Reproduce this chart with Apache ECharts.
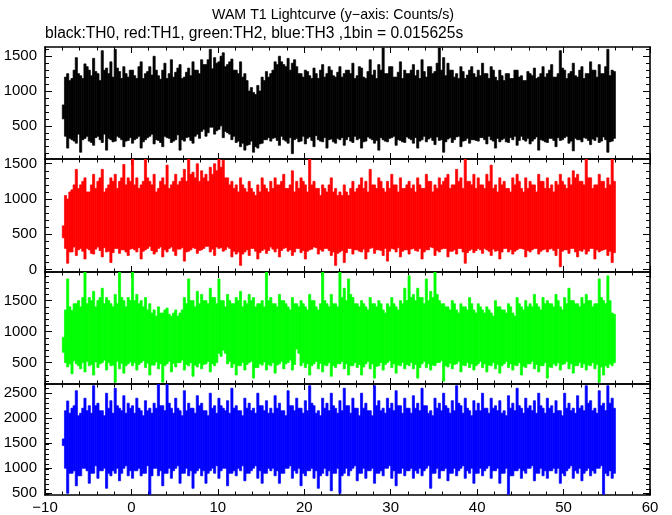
<!DOCTYPE html>
<html><head><meta charset="utf-8">
<script src="https://cdn.jsdelivr.net/npm/echarts@6/dist/echarts.min.js"></script>
<style>html,body{margin:0;padding:0;background:#fff}#c{width:672px;height:515px}</style>
</head><body><div id="c"></div>
<script>
const titleText = 'WAM T1 Lightcurve (y\u2212axis: Counts/s)';
const subtitleText = 'black:TH0, red:TH1, green:TH2, blue:TH3 ,1bin = 0.015625s';
const xMin = -10, xMax = 60, xStep = 10;
const tStart = -8, binStep = 0.5;

// Envelope (high / low).
// "A" arrays: first quarter-second of each 0.5 s bin (t = -8, -7.5, ... 55.5)
// "B" arrays: second quarter-second of each bin (t = -7.75, -7.25, ... 55.75)
const th0Hi = [
 800,1250,1180,1480,1220,1390,1300,1470,1250,1580,1330,1420,1600,1280,1350,1200,
 1300,1180,1420,1250,1350,1500,1220,1300,1180,1450,1270,1380,1200,1330,1420,1300,
 1450,1380,1600,1480,1420,1550,1380,1460,1300,1420,1250,1000,980,1080,1200,1280,
 1250,1420,1500,1380,1470,1400,1350,1250,1300,1220,1330,1180,1380,1250,1300,1200,
 1350,1250,1300,1400,1220,1330,1180,1450,1300,1380,1620,1250,1350,1200,1420,1300,
 1250,1380,1300,1450,1200,1350,1280,1620,1480,1400,1300,1250,1350,1180,1300,1250,
 1300,1400,1250,1350,1200,1300,1150,1250,1180,1300,1220,1150,1250,1330,1200,1350,
 1250,1380,1200,1580,1300,1250,1400,1200,1350,1250,1420,1300,1380,1250,1600,1300];
const th0Lo = [
 600,180,300,250,120,320,280,220,350,260,150,300,280,330,200,290,
 250,320,180,300,350,240,290,200,330,260,300,150,280,340,250,380,
 420,350,480,380,450,330,400,300,260,200,150,230,120,180,250,300,
 280,330,220,300,250,100,320,280,240,340,200,300,270,180,310,250,
 300,220,340,260,300,180,280,320,250,150,300,270,330,220,290,260,
 320,250,180,300,270,330,230,290,120,310,260,340,200,290,250,300,
 280,330,240,300,180,270,320,260,300,220,350,280,240,310,150,290,
 260,320,200,290,330,250,140,300,270,320,230,290,260,340,120,280];
const th0HiB = [
 1200,1150,1300,1250,1180,1350,1220,1280,1150,1300,1250,1200,1330,1180,1250,1300,
 1220,1350,1180,1280,1230,1300,1170,1400,1250,1200,1330,1180,1270,1220,1300,1250,
 1380,1450,1320,1400,1500,1350,1420,1300,1250,1200,1150,1050,950,1000,1150,1200,
 1300,1380,1420,1350,1300,1450,1250,1200,1280,1180,1250,1300,1200,1350,1220,1270,
 1200,1300,1250,1180,1350,1200,1280,1230,1180,1300,1250,1350,1200,1270,1180,1250,
 1300,1220,1180,1280,1350,1250,1400,1300,1220,1300,1200,1180,1280,1230,1350,1200,
 1220,1250,1180,1300,1150,1220,1250,1180,1300,1200,1150,1280,1220,1180,1250,1200,
 1300,1200,1250,1330,1180,1280,1220,1300,1180,1250,1300,1200,1250,1350,1220,1280];
const th0LoB = [
 350,320,280,380,300,350,260,330,300,380,320,270,350,300,280,330,
 300,350,270,330,380,300,260,350,320,280,370,300,330,290,350,320,
 450,400,480,430,500,420,380,350,280,250,220,280,200,240,300,330,
 320,290,350,280,330,300,270,350,320,290,360,280,330,300,270,320,
 330,300,280,350,320,270,340,300,290,330,280,320,350,300,270,340,
 300,330,280,350,310,290,340,300,270,330,300,350,280,320,300,290,
 330,300,350,280,320,300,270,330,350,290,300,320,280,340,300,270,
 320,290,330,300,350,280,320,300,330,290,310,340,280,300,270,320];

const th1Hi = [
 620,1000,1130,1420,1200,1300,1100,1350,1250,1420,1150,1300,1350,1250,1490,1300,
 1570,1300,1200,1570,1250,1350,1150,1300,1480,1200,1350,1250,1420,1570,1380,1500,
 1400,1350,1450,1500,1570,1550,1300,1250,1200,1300,1150,1250,1100,1200,1300,1150,
 1250,1300,1200,1350,1150,1400,1250,1300,1200,1570,1250,1150,1200,1100,1300,1150,
 1100,1200,1050,1250,1150,1300,1250,1420,1200,1300,1150,1250,1350,1200,1300,1150,
 1250,1200,1300,1150,1350,1250,1200,1300,1250,1350,1200,1420,1300,1570,1250,1350,
 1300,1200,1350,1480,1200,1300,1250,1150,1300,1350,1150,1300,1250,1200,1350,1250,
 1300,1200,1250,1350,1200,1300,1400,1350,1250,1570,1300,1200,1350,1250,1300,1570];
const th1Lo = [
 450,90,250,200,300,150,280,220,320,180,250,100,300,230,280,200,
 300,250,150,280,330,220,300,180,250,320,200,290,120,260,310,230,
 280,330,250,200,300,260,320,180,220,60,250,200,300,150,270,230,
 320,250,180,300,260,200,300,240,150,280,320,220,260,300,200,60,
 250,100,300,220,280,250,150,300,230,280,200,120,300,250,180,280,
 220,300,260,150,280,320,200,250,300,180,260,220,300,90,270,240,
 300,230,280,200,260,150,300,250,220,280,300,180,250,300,220,280,
 250,300,200,40,280,230,300,180,260,220,300,150,250,280,200,100];
const th1HiB = [
 1050,1100,1200,1150,1250,1100,1200,1150,1300,1100,1200,1250,1150,1300,1200,1250,
 1200,1150,1250,1300,1200,1100,1250,1200,1150,1250,1200,1300,1250,1350,1300,1250,
 1300,1250,1350,1400,1450,1300,1200,1150,1100,1200,1100,1150,1050,1100,1200,1100,
 1150,1200,1250,1150,1200,1100,1150,1250,1100,1200,1150,1050,1150,1200,1100,1050,
 1050,1100,1150,1100,1200,1150,1100,1200,1150,1250,1100,1150,1200,1100,1150,1200,
 1150,1100,1200,1150,1250,1100,1150,1200,1300,1150,1200,1250,1150,1250,1200,1150,
 1200,1150,1250,1150,1100,1200,1150,1100,1200,1250,1100,1150,1200,1100,1250,1150,
 1150,1100,1200,1250,1150,1200,1300,1250,1200,1300,1150,1200,1250,1150,1200,1250];
const th1LoB = [
 300,250,320,280,260,300,230,290,270,310,260,240,300,280,250,290,
 280,310,260,300,270,250,320,280,300,260,290,310,250,280,300,270,
 300,330,290,320,310,280,300,260,250,220,280,300,260,240,290,270,
 290,300,270,310,280,250,300,270,260,290,310,280,300,270,250,230,
 270,240,300,280,260,290,250,310,280,270,300,260,290,310,260,280,
 290,270,300,250,280,310,270,290,300,260,280,300,250,240,290,270,
 280,300,260,290,270,250,300,280,260,300,290,270,280,300,260,290,
 290,270,300,260,280,300,250,270,290,260,300,280,270,290,260,240];

const th2Hi = [
 908,1850,1340,1450,1400,1960,1550,1650,1500,1700,1550,1450,1600,1960,1500,1550,
 1960,1600,1500,1550,1450,1350,1400,1300,1380,1250,1350,1300,1550,1850,1500,1650,
 1600,1500,1700,1550,1850,1500,1600,1450,1550,1650,1500,1600,1550,1450,1500,1960,
 1550,1450,1600,1500,1400,1550,1450,1500,1400,1600,1500,1350,1960,1450,1600,1450,
 1960,1700,1850,1550,1450,1500,1400,1550,1450,1500,1350,1450,1550,1400,1500,1700,
 1900,1600,1700,1550,1850,1650,1960,1500,1450,1400,1500,1350,1450,1400,1550,1350,
 1450,1350,1400,1300,1500,1400,1350,1450,1300,1550,1400,1500,1450,1600,1400,1550,
 1500,1450,1600,1400,1550,1700,1500,1450,1550,1600,1500,1450,1850,1500,1900,1300];
const th2Lo = [
 667,430,320,480,400,350,450,300,420,500,380,450,183,400,330,480,
 450,380,500,420,300,460,400,183,480,350,430,500,380,450,280,430,
 400,480,350,450,650,700,480,420,300,450,380,500,250,420,460,380,
 450,330,480,400,500,380,720,450,420,300,480,400,350,450,280,420,
 480,400,300,450,420,300,480,400,250,450,380,500,420,330,450,400,
 450,400,250,480,420,380,450,500,200,430,400,480,350,450,420,380,
 480,420,350,450,400,330,480,420,380,450,300,420,480,400,350,450,
 250,420,450,380,480,400,330,450,420,380,450,400,183,300,420,450];
const th2HiB = [
 1350,1400,1450,1500,1550,1450,1500,1400,1550,1450,1500,1400,1450,1550,1400,1500,
 1500,1450,1400,1350,1300,1250,1300,1350,1280,1300,1250,1350,1450,1500,1400,1450,
 1500,1450,1550,1450,1500,1400,1500,1450,1500,1400,1450,1500,1400,1450,1400,1500,
 1450,1400,1500,1450,1350,1450,1400,1450,1350,1500,1400,1450,1500,1400,1450,1400,
 1550,1500,1600,1450,1400,1450,1350,1450,1400,1450,1300,1400,1450,1350,1450,1500,
 1550,1500,1550,1450,1500,1550,1600,1450,1400,1350,1450,1300,1400,1350,1450,1300,
 1400,1300,1350,1250,1400,1350,1300,1400,1250,1450,1350,1400,1400,1450,1350,1450,
 1450,1400,1500,1350,1450,1500,1450,1400,1450,1500,1400,1450,1550,1450,1500,1280];
const th2LoB = [
 500,480,530,450,500,520,470,510,480,540,500,460,520,490,450,510,
 500,470,530,490,460,510,480,450,520,490,500,540,470,500,460,490,
 470,520,480,500,600,650,520,480,450,500,470,520,420,480,510,470,
 500,460,520,480,540,470,650,500,480,450,520,490,460,500,450,480,
 520,480,450,500,470,430,520,480,440,500,470,530,480,460,500,470,
 500,470,420,520,480,460,500,530,450,490,470,520,460,500,480,450,
 520,480,460,500,470,450,520,480,460,500,440,480,520,470,450,500,
 430,480,500,470,520,480,450,500,480,460,500,470,430,450,480,500];

const th3Hi = [
 1586,2345,2200,2550,2100,2400,2250,2650,2300,2150,2500,2350,2600,2200,2450,2300,
 2250,2400,2150,2350,2200,2300,2680,2250,2680,2200,2400,2150,2550,2300,2200,2450,
 2300,2150,2500,2250,2400,2200,2350,2600,2250,2150,2400,2300,2200,2500,2250,2350,
 2200,2450,2300,2150,2550,2250,2400,2200,2350,2650,2250,2150,2400,2300,2500,2200,
 2350,2600,2250,2400,2200,2500,2300,2150,2650,2350,2200,2400,2300,2550,2250,2400,
 2200,2450,2300,2600,2250,2150,2400,2300,2500,2200,2350,2650,2250,2400,2150,2350,
 2300,2500,2200,2400,2250,2350,2150,2450,2300,2600,2200,2400,2250,2350,2500,2200,
 2400,2250,2350,2150,2500,2300,2200,2450,2250,2650,2350,2200,2550,2300,2650,2400];
const th3Lo = [
 1454,500,900,650,850,1000,700,900,800,950,600,850,900,750,1000,850,
 800,950,850,900,480,1000,850,650,900,800,1000,700,900,850,600,950,
 850,700,950,900,800,1000,650,900,850,950,750,900,1000,800,700,900,
 950,850,700,900,1000,800,900,650,850,950,800,600,900,850,550,900,
 500,900,850,1000,750,900,800,950,700,900,850,1000,800,650,900,850,
 950,800,900,850,1000,600,900,800,950,750,900,850,1000,800,900,700,
 900,850,1000,800,950,700,900,480,850,950,800,900,1000,750,900,850,
 800,950,900,700,850,1000,800,900,750,950,850,900,1000,480,850,800];
const th3HiB = [
 2150,2100,2250,2050,2200,2150,2100,2250,2150,2050,2200,2100,2250,2150,2100,2200,
 2100,2200,2050,2150,2100,2200,2250,2150,2300,2100,2200,2050,2150,2200,2100,2250,
 2150,2050,2200,2100,2250,2150,2100,2200,2150,2050,2200,2150,2100,2250,2150,2100,
 2100,2200,2150,2050,2250,2150,2200,2100,2150,2300,2100,2050,2200,2150,2250,2100,
 2150,2250,2100,2200,2050,2200,2150,2050,2250,2150,2100,2200,2150,2250,2100,2200,
 2100,2200,2150,2250,2100,2050,2200,2150,2250,2100,2150,2300,2100,2200,2050,2150,
 2150,2200,2100,2200,2150,2100,2050,2200,2150,2250,2100,2200,2150,2100,2250,2100,
 2200,2100,2150,2050,2200,2150,2100,2200,2150,2300,2150,2100,2250,2150,2300,2200];
const th3LoB = [
 1000,900,950,850,1000,950,900,1050,950,1000,900,950,1000,900,1050,950,
 950,1000,900,1050,850,1000,950,900,1000,950,1050,900,1000,950,900,1000,
 950,900,1000,1050,950,1000,900,950,1000,1050,900,950,1050,950,900,1000,
 1000,950,900,1000,1050,950,1000,900,950,1000,950,850,1000,950,900,1000,
 850,1000,950,1050,900,1000,950,1000,900,950,1000,1050,950,900,1000,950,
 1000,950,1000,950,1050,900,1000,950,1000,900,1000,950,1050,950,1000,900,
 1000,950,1050,950,1000,900,1000,850,950,1000,950,1000,1050,900,1000,950,
 950,1000,1000,900,950,1050,950,1000,900,1000,950,1000,1050,900,950,900];

const panelHiA = [th0Hi, th1Hi, th2Hi, th3Hi];
const panelLoA = [th0Lo, th1Lo, th2Lo, th3Lo];
const panelHiB = [th0HiB, th1HiB, th2HiB, th3HiB];
const panelLoB = [th0LoB, th1LoB, th2LoB, th3LoB];
const panelNames = ['TH0','TH1','TH2','TH3'];
const panelColors = ['#000000','#ff0000','#00ff00','#0000ff'];
const yRanges = [[23,1633],[-34,1567],[155,1962],[466,2684]];
const yLabelValues = [[500,1000,1500],[0,500,1000,1500],[500,1000,1500],[500,1000,1500,2000,2500]];

const gridTops = [47,159,272,384];
const gridHeights = [112,113,112,112];
const FONT = '"Liberation Sans", Arial, Helvetica, sans-serif';
const FS = 15;

function binRows(hiA, loA, hiB, loB){
  const rows = [];
  const half = binStep/2;
  for (let i = 0; i < hiA.length; i++){
    const t = tStart + i*binStep;
    rows.push([t, t + half, loA[i], hiA[i]]);
    rows.push([t + half, t + binStep, loB[i], hiB[i]]);
  }
  return rows;
}
function hundreds(r){
  const out = [];
  for (let v = Math.ceil(r[0]/100)*100; v <= r[1]; v += 100) out.push(v);
  return out;
}

const grids = [], xAxes = [], yAxes = [], series = [];
const black = {color:'#000', width:1};
const frame = {color:'#000', width:1.6};
for (let p = 0; p < 4; p++){
  const g = {left:45, right:22, top:gridTops[p], height:gridHeights[p], containLabel:false};
  grids.push(Object.assign({}, g), Object.assign({}, g));
  const gi = 2*p, go = 2*p+1;
  const xBase = {
    type:'value', min:xMin, max:xMax, interval:xStep, splitLine:{show:false},
    axisLine:{show:true, onZero:false, lineStyle:frame},
    axisTick:{show:true, inside:true, length:6, lineStyle:black},
    minorTick:{show:true, splitNumber:5, length:3.5, lineStyle:black},
    minorSplitLine:{show:false}
  };
  xAxes.push(Object.assign({}, xBase, {gridIndex:gi, position:'bottom',
    axisLabel:{show:p===3, color:'#000', fontFamily:FONT, fontSize:FS, margin:5,
      formatter: v => v < 0 ? '\u2212' + Math.abs(v) : String(v)}}));
  xAxes.push(Object.assign({}, xBase, {gridIndex:gi, position:'top', axisLabel:{show:false}}));
  xAxes.push({type:'value', gridIndex:go, min:xMin, max:xMax, show:false});
  const r = yRanges[p];
  const yMajor = {type:'value', gridIndex:gi, min:r[0], max:r[1], splitLine:{show:false},
    axisLine:{show:true, onZero:false, lineStyle:frame},
    axisTick:{show:true, inside:true, length:7, lineStyle:black, customValues:yLabelValues[p]}};
  yAxes.push(Object.assign({}, yMajor, {position:'left',
    axisLabel:{show:true, customValues:yLabelValues[p], color:'#000', fontFamily:FONT, fontSize:FS, margin:8,
      formatter: v => String(v)}}));
  yAxes.push(Object.assign({}, yMajor, {position:'right', axisLabel:{show:false}}));
  const yMinor = {type:'value', gridIndex:go, min:r[0], max:r[1], splitLine:{show:false},
    axisLine:{show:false, onZero:false}, axisLabel:{show:false},
    axisTick:{show:true, inside:true, length:4, lineStyle:black, customValues:hundreds(r)}};
  yAxes.push(Object.assign({}, yMinor, {position:'left'}));
  yAxes.push(Object.assign({}, yMinor, {position:'right'}));
  const color = panelColors[p];
  series.push({
    name:panelNames[p], type:'custom', xAxisIndex:3*p, yAxisIndex:4*p, z:1,
    data:binRows(panelHiA[p], panelLoA[p], panelHiB[p], panelLoB[p]), encode:{x:[0,1], y:[2,3]},
    clip:true, animation:false, silent:true,
    renderItem: function(params, api){
      const a = api.coord([api.value(0), api.value(3)]);
      const b = api.coord([api.value(1), api.value(2)]);
      const cs = params.coordSys;
      const shape = echarts.graphic.clipRectByRect(
        {x:a[0], y:a[1], width:b[0]-a[0], height:b[1]-a[1]},
        {x:cs.x, y:cs.y, width:cs.width, height:cs.height});
      if (!shape) return null;
      return {type:'rect', shape:shape, style:{fill:color, stroke:color, lineWidth:0.7}};
    }
  });
}

const chart = echarts.init(document.getElementById('c'), null, {renderer:'canvas'});
chart.setOption({
  animation:false,
  backgroundColor:'#fff',
  grid:grids, xAxis:xAxes, yAxis:yAxes, series:series,
  graphic:[
    {type:'text', x:333, y:15, style:{text:titleText, fill:'#000', font:'14.2px '+FONT, align:'center', verticalAlign:'middle'}},
    {type:'text', x:45, y:34, style:{text:subtitleText, fill:'#000', font:'15.6px '+FONT, align:'left', verticalAlign:'middle'}}
  ]
});
</script></body></html>
